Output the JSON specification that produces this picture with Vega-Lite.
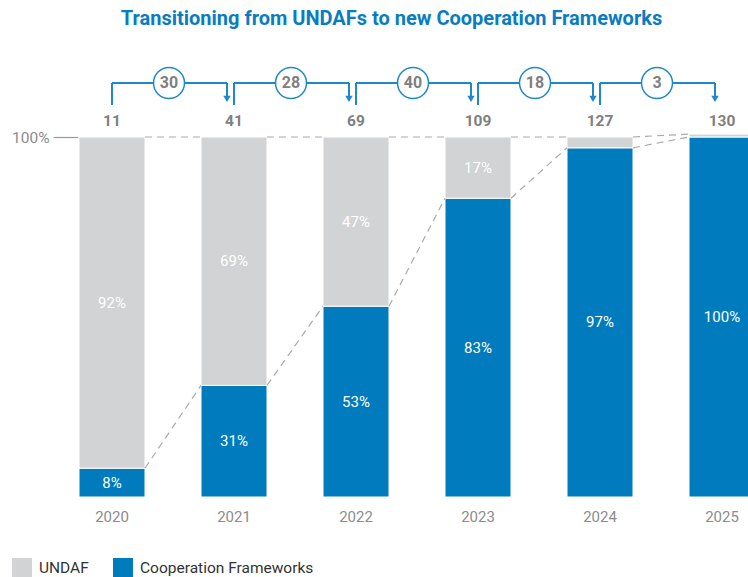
{
  "$schema": "https://vega.github.io/schema/vega-lite/v6.json",
  "width": 697,
  "height": 360,
  "autosize": {"type": "none"},
  "padding": {"left": 51, "top": 137, "right": 0, "bottom": 80},
  "config": {"font": "Roboto", "view": {"stroke": null}},
  "title": {"text": "Transitioning from UNDAFs to new Cooperation Frameworks", "fontSize": 20, "fontWeight": "bold", "color": "#0A7DC1", "anchor": "middle", "offset": 36, "dx": -8, "font": "Roboto"},
  "datasets": {
    "shares": [
      {"year": 2020, "type": "Cooperation Frameworks", "share": 0.08},
      {"year": 2020, "type": "UNDAF", "share": 0.92},
      {"year": 2021, "type": "Cooperation Frameworks", "share": 0.31},
      {"year": 2021, "type": "UNDAF", "share": 0.69},
      {"year": 2022, "type": "Cooperation Frameworks", "share": 0.53},
      {"year": 2022, "type": "UNDAF", "share": 0.47},
      {"year": 2023, "type": "Cooperation Frameworks", "share": 0.83},
      {"year": 2023, "type": "UNDAF", "share": 0.17},
      {"year": 2024, "type": "Cooperation Frameworks", "share": 0.97},
      {"year": 2024, "type": "UNDAF", "share": 0.03},
      {"year": 2025, "type": "Cooperation Frameworks", "share": 1.0},
      {"year": 2025, "type": "UNDAF", "share": 0.008}
    ],
    "counts": [
      {"year": 2020, "count": 11},
      {"year": 2021, "count": 41},
      {"year": 2022, "count": 69},
      {"year": 2023, "count": 109},
      {"year": 2024, "count": 127},
      {"year": 2025, "count": 130}
    ],
    "transitions": [
      {"from": 2020, "to": 2021, "added": 30},
      {"from": 2021, "to": 2022, "added": 28},
      {"from": 2022, "to": 2023, "added": 40},
      {"from": 2023, "to": 2024, "added": 18},
      {"from": 2024, "to": 2025, "added": 3}
    ]
  },
  "resolve": {"scale": {"y": "independent"}},
  "layer": [
    {
      "data": {"name": "shares"},
      "mark": {"type": "bar", "width": 66, "stroke": "white", "strokeWidth": 1},
      "encoding": {
        "x": {"field": "year", "type": "quantitative", "scale": {"domain": [2019.5, 2025.2131], "nice": false, "zero": false, "padding": 0}, "axis": null},
        "y": {"field": "share", "type": "quantitative", "stack": "zero", "scale": {"domain": [0, 1], "nice": false, "padding": 0},
          "axis": {"values": [1], "format": ".0%", "title": null, "domain": false, "grid": false, "offset": -27, "tickSize": 25, "tickColor": "#9a9a9a", "tickWidth": 1.2, "labelFontSize": 15.5, "labelColor": "#8c8c8c", "labelPadding": 4, "labelFont": "Roboto"}},
        "color": {"field": "type", "type": "nominal",
          "scale": {"domain": ["UNDAF", "Cooperation Frameworks"], "range": ["#D1D3D4", "#007BBD"]},
          "legend": {"orient": "none", "legendX": -39, "legendY": 421, "direction": "horizontal", "title": null, "symbolType": "square", "symbolSize": 400, "symbolStrokeWidth": 0, "labelFontSize": 15.5, "labelColor": "#333333", "labelFont": "Roboto", "labelLimit": 400, "columnPadding": 24, "labelOffset": 7}},
        "order": {"field": "type", "sort": "ascending"}
      }
    },
    {
      "data": {"name": "shares"},
      "transform": [
        {"aggregate": [{"op": "sum", "field": "share", "as": "total"}], "groupby": ["year"]},
        {"window": [{"op": "lead", "field": "year", "as": "nextYear"}, {"op": "lead", "field": "total", "as": "nextTotal"}], "sort": [{"field": "year"}]},
        {"filter": "datum.nextYear != null"}
      ],
      "mark": {"type": "rule", "color": "#aaaaaa", "strokeDash": [7, 5], "strokeWidth": 1.2, "xOffset": 33, "x2Offset": -33},
      "encoding": {
        "x": {"field": "year", "type": "quantitative", "scale": {"domain": [2019.5, 2025.2131], "nice": false, "zero": false, "padding": 0}, "axis": null},
        "x2": {"field": "nextYear"},
        "y": {"field": "total", "type": "quantitative", "scale": {"domain": [0, 1], "nice": false, "padding": 0}, "axis": null},
        "y2": {"field": "nextTotal"}
      }
    },
    {
      "data": {"name": "shares"},
      "transform": [
        {"filter": "datum.type == 'Cooperation Frameworks'"},
        {"window": [{"op": "lead", "field": "year", "as": "nextYear"}, {"op": "lead", "field": "share", "as": "nextShare"}], "sort": [{"field": "year"}]},
        {"filter": "datum.nextYear != null"}
      ],
      "mark": {"type": "rule", "color": "#aaaaaa", "strokeDash": [7, 5], "strokeWidth": 1.2, "xOffset": 33, "x2Offset": -33},
      "encoding": {
        "x": {"field": "year", "type": "quantitative", "scale": {"domain": [2019.5, 2025.2131], "nice": false, "zero": false, "padding": 0}, "axis": null},
        "x2": {"field": "nextYear"},
        "y": {"field": "share", "type": "quantitative", "scale": {"domain": [0, 1], "nice": false, "padding": 0}, "axis": null},
        "y2": {"field": "nextShare"}
      }
    },
    {
      "data": {"name": "counts"},
      "mark": {"type": "text", "fontSize": 15.5, "fontWeight": "bold", "color": "#808080", "baseline": "middle"},
      "encoding": {
        "x": {"field": "year", "type": "quantitative", "scale": {"domain": [2019.5, 2025.2131], "nice": false, "zero": false, "padding": 0}, "axis": null},
        "y": {"datum": 1.0444, "scale": {"domain": [0, 1], "nice": false, "padding": 0}, "axis": null},
        "text": {"field": "count"}
      }
    },
    {
      "data": {"name": "counts"},
      "mark": {"type": "text", "fontSize": 15, "color": "#8c8c8c", "baseline": "middle"},
      "encoding": {
        "x": {"field": "year", "type": "quantitative", "scale": {"domain": [2019.5, 2025.2131], "nice": false, "zero": false, "padding": 0}, "axis": null},
        "y": {"datum": -0.0556, "scale": {"domain": [0, 1], "nice": false, "padding": 0}, "axis": null},
        "text": {"field": "year", "format": "d"}
      }
    },
    {
      "data": {"name": "transitions"},
      "mark": {"type": "rule", "color": "#1E88CA", "strokeWidth": 2},
      "encoding": {
        "x": {"field": "from", "type": "quantitative", "scale": {"domain": [2019.5, 2025.2131], "nice": false, "zero": false, "padding": 0}, "axis": null},
        "y": {"datum": 1.0889, "scale": {"domain": [0, 1], "nice": false, "padding": 0}, "axis": null},
        "y2": {"datum": 1.15}
      }
    },
    {
      "data": {"name": "transitions"},
      "mark": {"type": "rule", "color": "#1E88CA", "strokeWidth": 2, "x2Offset": -7},
      "encoding": {
        "x": {"field": "from", "type": "quantitative", "scale": {"domain": [2019.5, 2025.2131], "nice": false, "zero": false, "padding": 0}, "axis": null},
        "x2": {"field": "to"},
        "y": {"datum": 1.15, "scale": {"domain": [0, 1], "nice": false, "padding": 0}, "axis": null}
      }
    },
    {
      "data": {"name": "transitions"},
      "mark": {"type": "rule", "color": "#1E88CA", "strokeWidth": 2, "xOffset": -7},
      "encoding": {
        "x": {"field": "to", "type": "quantitative", "scale": {"domain": [2019.5, 2025.2131], "nice": false, "zero": false, "padding": 0}, "axis": null},
        "y": {"datum": 1.15, "scale": {"domain": [0, 1], "nice": false, "padding": 0}, "axis": null},
        "y2": {"datum": 1.112}
      }
    },
    {
      "data": {"name": "transitions"},
      "mark": {"type": "point", "shape": "triangle-down", "filled": true, "color": "#1E88CA", "size": 55, "opacity": 1, "xOffset": -7},
      "encoding": {
        "x": {"field": "to", "type": "quantitative", "scale": {"domain": [2019.5, 2025.2131], "nice": false, "zero": false, "padding": 0}, "axis": null},
        "y": {"datum": 1.106, "scale": {"domain": [0, 1], "nice": false, "padding": 0}, "axis": null}
      }
    },
    {
      "data": {"name": "transitions"},
      "mark": {"type": "point", "shape": "circle", "filled": true, "fill": "white", "stroke": "#1E88CA", "strokeWidth": 1.5, "size": 960, "opacity": 1, "xOffset": 57},
      "encoding": {
        "x": {"field": "from", "type": "quantitative", "scale": {"domain": [2019.5, 2025.2131], "nice": false, "zero": false, "padding": 0}, "axis": null},
        "y": {"datum": 1.15, "scale": {"domain": [0, 1], "nice": false, "padding": 0}, "axis": null}
      }
    },
    {
      "data": {"name": "transitions"},
      "mark": {"type": "text", "fontSize": 16, "fontWeight": "bold", "color": "#808080", "baseline": "middle", "xOffset": 57},
      "encoding": {
        "x": {"field": "from", "type": "quantitative", "scale": {"domain": [2019.5, 2025.2131], "nice": false, "zero": false, "padding": 0}, "axis": null},
        "y": {"datum": 1.15, "scale": {"domain": [0, 1], "nice": false, "padding": 0}, "axis": null},
        "text": {"field": "added"}
      }
    },
    {
      "data": {"name": "shares"},
      "transform": [{"filter": "datum.type == 'Cooperation Frameworks' && datum.share >= 0.05"}],
      "mark": {"type": "text", "fontSize": 15, "color": "white", "baseline": "middle"},
      "encoding": {
        "x": {"field": "year", "type": "quantitative", "scale": {"domain": [2019.5, 2025.2131], "nice": false, "zero": false, "padding": 0}, "axis": null},
        "y": {"field": "share", "type": "quantitative", "scale": {"domain": [0, 2], "nice": false, "padding": 0}, "axis": null},
        "text": {"field": "share", "format": ".0%"}
      }
    },
    {
      "data": {"name": "shares"},
      "transform": [{"filter": "datum.type == 'UNDAF' && datum.share >= 0.05"}],
      "mark": {"type": "text", "fontSize": 15, "color": "white", "baseline": "middle"},
      "encoding": {
        "x": {"field": "year", "type": "quantitative", "scale": {"domain": [2019.5, 2025.2131], "nice": false, "zero": false, "padding": 0}, "axis": null},
        "y": {"field": "share", "type": "quantitative", "scale": {"domain": [0, 2], "nice": false, "reverse": true, "padding": 0}, "axis": null},
        "text": {"field": "share", "format": ".0%"}
      }
    }
  ]
}
